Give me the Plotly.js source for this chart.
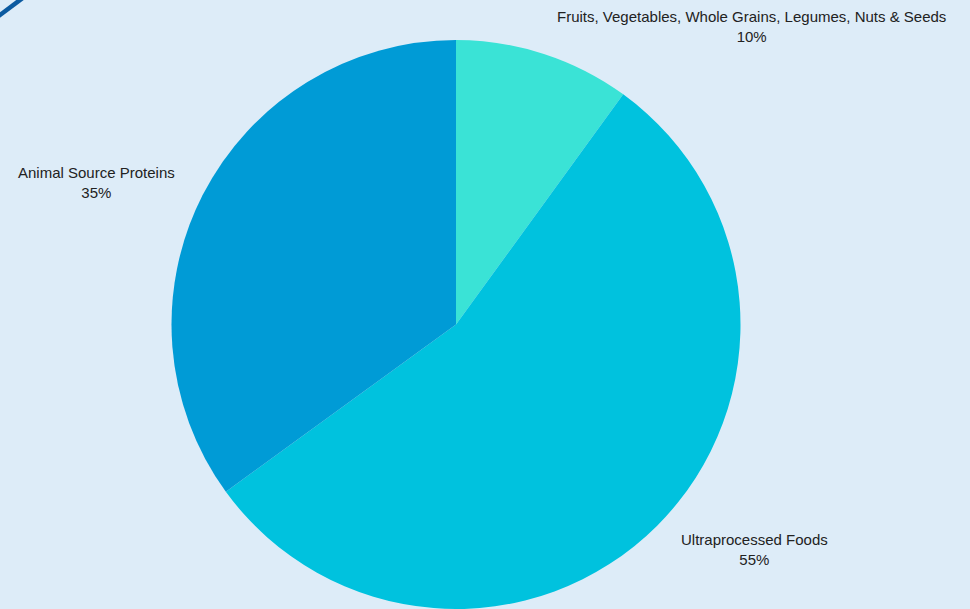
<!DOCTYPE html>
<html>
<head>
<meta charset="utf-8">
<script src="https://cdn.plot.ly/plotly-3.0.1.min.js"></script>
<style>html,body{margin:0;padding:0;background:#DDECF8;}</style>
</head>
<body>
<div id="chart" style="width:970px;height:609px;"></div>
<script>
const categories = ["Fruits, Vegetables, Whole Grains, Legumes, Nuts & Seeds", "Ultraprocessed Foods", "Animal Source Proteins"];
const shares = [10, 55, 35];
const sliceColors = ["#3AE3D6", "#00C2DE", "#009BD6"];

const W = 970, H = 609;
const M = {l: 0, r: 58, t: 40, b: 0};
const plotW = W - M.l - M.r, plotH = H - M.t - M.b;
const radius = Math.min(plotW, plotH) / 2;
const labelGaps = [10, 20, 20];
const FONT = "Liberation Sans, Arial, sans-serif";
const FSIZE = 15;

const ctx = document.createElement("canvas").getContext("2d");
ctx.font = FSIZE + "px 'Liberation Sans', Arial, sans-serif";

// Outside labels placed from the slice values (clockwise from 12 o'clock)
const total = shares.reduce((a, b) => a + b, 0);
let cum = 0;
const labelAnnotations = categories.map((name, i) => {
  const mid = (cum + shares[i] / 2) / total * 2 * Math.PI;
  cum += shares[i];
  const pct = Math.round(shares[i] / total * 100) + "%";
  const r = radius + labelGaps[i];
  const x = r * Math.sin(mid), y = -r * Math.cos(mid);   // screen coords, y down
  const w = Math.max(ctx.measureText(name).width, ctx.measureText(pct).width);
  const h = 40;
  let dx = w / 2, dy = h / 2;
  if (x < 0) dx = -dx;
  if (y < 0) dy = -dy;
  const offX = dx + Math.abs(dy) * (dx > 0 ? 1 : -1) / 2;
  const offY = dy / (1 + x * x / (y * y));
  const cxPix = plotW / 2 + x + offX;
  const cyPix = plotH / 2 + y + offY;
  return {
    xref: "paper", yref: "paper",
    x: cxPix / plotW,
    y: 1 - cyPix / plotH,
    xanchor: "center",
    yanchor: "middle",
    text: name + "<br>" + pct,
    align: "center",
    showarrow: false,
    borderpad: 0,
    font: {family: FONT, size: FSIZE, color: "#222222"}
  };
});

const trace = {
  type: "pie",
  labels: categories,
  values: shares,
  sort: false,
  direction: "clockwise",
  rotation: 0,
  textinfo: "none",
  marker: {colors: sliceColors, line: {width: 0}},
  automargin: false,
  showlegend: false,
  hoverinfo: "label+percent"
};

const layout = {
  width: W,
  height: H,
  margin: M,
  paper_bgcolor: "#DDECF8",
  plot_bgcolor: "#DDECF8",
  showlegend: false,
  font: {family: FONT, size: FSIZE, color: "#222222"},
  annotations: labelAnnotations,
  shapes: [{
    type: "line", xref: "paper", yref: "paper",
    x0: -0.0088, y0: 1.0334, x1: 0.0307, y1: 1.0808,
    line: {color: "#0B5AA0", width: 4.5}
  }]
};

Plotly.newPlot("chart", [trace], layout, {displayModeBar: false, staticPlot: true});
</script>
</body>
</html>
